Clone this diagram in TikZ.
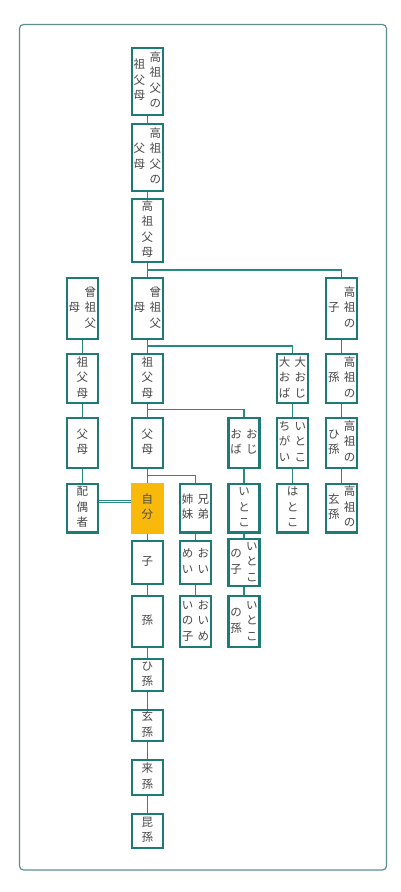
\documentclass[tikz,border=0pt]{standalone}
\usepackage{fontspec}
\setmainfont{Noto Sans CJK JP}
\definecolor{bd}{HTML}{1E7A74}
\definecolor{cn}{HTML}{2A8882}
\definecolor{fr}{HTML}{5E8E8C}
\definecolor{tx}{HTML}{484848}
\definecolor{og}{HTML}{F9B90A}
\newcommand\vcl[1]{\begin{tabular}[c]{@{}c@{}}#1\end{tabular}}
\newcommand\two[2]{\vcl{#2}\hspace{4.4pt}\vcl{#1}}
\tikzset{
  box/.style={draw=bd, line width=2.2pt, fill=white, inner sep=0pt, minimum width=31pt, text=tx},
  me/.style={box, draw=og, fill=og},
  conn/.style={draw=cn, line width=1.5pt},
  frame/.style={draw=fr, line width=1.2pt, rounded corners=4pt}
}
\begin{document}
\begin{tikzpicture}[x=1pt, y=-1pt, font=\fontsize{11.5}{15.5}\selectfont]
\fill[white] (0,0) rectangle (400,892);
\useasboundingbox (0,0) rectangle (400,892);
\draw[frame] (19.5,24.5) rectangle (386.5,870);
% junctions
\coordinate (j1) at (147.3,270);
\coordinate (j2) at (147.3,346);
\coordinate (j3) at (147.3,409.7);
\coordinate (j4) at (147.3,475.5);
% main column
\node[box, minimum height=67.3pt] (m1) at (147.3,81.25) {\two{高\\祖\\父\\の}{祖\\父\\母}};
\node[box, minimum height=66.8pt] (m2) at (147.3,157.5) {\two{高\\祖\\父\\の}{父\\母}};
\node[box, minimum height=62.8pt] (m3) at (147.3,230.5) {\vcl{高\\祖\\父\\母}};
\node[box, minimum height=60.8pt] (m4) at (147.3,308.5) {\two{曾\\祖\\父}{母}};
\node[box, minimum height=48.8pt] (m5) at (147.3,378.5) {\vcl{祖\\父\\母}};
\node[box, minimum height=50.1pt] (m6) at (147.3,442.85) {\vcl{父\\母}};
\node[me, minimum height=48.6pt] (jibun) at (147.3,508.1) {\vcl{自\\分}};
\node[box, minimum height=42.8pt] (ko) at (147.3,562.5) {\vcl{子}};
\node[box, minimum height=50.8pt] (mago) at (147.3,621.5) {\vcl{孫}};
\node[box, minimum height=31.8pt] (himago) at (147.3,675) {\vcl{ひ\\孫}};
\node[box, minimum height=30.8pt] (genson) at (147.3,725.5) {\vcl{玄\\孫}};
\node[box, minimum height=34.8pt] (raison) at (147.3,777.5) {\vcl{来\\孫}};
\node[box, minimum height=34.1pt] (konson) at (147.3,830.85) {\vcl{昆\\孫}};
% left column
\node[box, minimum height=60.8pt] (l4) at (82.3,308.5) {\two{曾\\祖\\父}{母}};
\node[box, minimum height=48.8pt] (l5) at (82.3,378.5) {\vcl{祖\\父\\母}};
\node[box, minimum height=50.1pt] (l6) at (82.3,442.85) {\vcl{父\\母}};
\node[box, minimum height=48.6pt] (haigu) at (82.3,508.1) {\vcl{配\\偶\\者}};
% siblings column
\node[box, minimum height=48.6pt] (kyodai) at (195.5,508.1) {\two{兄\\弟}{姉\\妹}};
\node[box, minimum height=42.8pt] (oimei) at (195.5,562.5) {\two{お\\い}{め\\い}};
\node[box, minimum height=50.8pt] (oimeiko) at (195.5,621.5) {\two{お\\い\\め}{い\\の\\子}};
% uncle column
\node[box, minimum height=50.1pt] (oji) at (244,442.85) {\two{お\\じ}{お\\ば}};
\node[box, minimum height=48.6pt] (itoko) at (244,508.1) {\vcl{い\\と\\こ}};
\node[box, minimum height=42.8pt] (itokoko) at (244,562.5) {\two{い\\と\\こ}{の\\子}};
\node[box, minimum height=50.8pt] (itokomago) at (244,621.5) {\two{い\\と\\こ}{の\\孫}};
% great-uncle column
\node[box, minimum height=48.8pt] (ooji) at (292.5,378.5) {\two{大\\お\\じ}{大\\お\\ば}};
\node[box, minimum height=50.1pt] (chigai) at (292.5,442.85) {\two{い\\と\\こ}{ち\\が\\い}};
\node[box, minimum height=48.6pt] (hatoko) at (292.5,508.1) {\vcl{は\\と\\こ}};
% koso column
\node[box, minimum height=60.8pt] (k1) at (341.7,308.5) {\two{高\\祖\\の}{子}};
\node[box, minimum height=48.8pt] (k2) at (341.7,378.5) {\two{高\\祖\\の}{孫}};
\node[box, minimum height=50.1pt] (k3) at (341.7,442.85) {\two{高\\祖\\の}{ひ\\孫}};
\node[box, minimum height=48.6pt] (k4) at (341.7,508.1) {\two{高\\祖\\の}{玄\\孫}};
% connectors main
\draw[conn] (m1) -- (m2);
\draw[conn] (m2) -- (m3);
\draw[conn] (m3) -- (m4);
\draw[conn] (m4) -- (m5);
\draw[conn] (m5) -- (m6);
\draw[conn] (m6) -- (jibun);
\draw[conn] (jibun) -- (ko);
\draw[conn] (ko) -- (mago);
\draw[conn] (mago) -- (himago);
\draw[conn] (himago) -- (genson);
\draw[conn] (genson) -- (raison);
\draw[conn] (raison) -- (konson);
% left
\draw[conn] (l4) -- (l5);
\draw[conn] (l5) -- (l6);
\draw[conn] (l6) -- (haigu);
% branches
\draw[conn] (j1) -| (k1.north);
\draw[conn] (j2) -| (ooji.north);
\draw[conn] (j3) -| (oji.north);
\draw[conn] (j4) -| (kyodai.north);
\draw[conn] (k1) -- (k2);
\draw[conn] (k2) -- (k3);
\draw[conn] (k3) -- (k4);
\draw[conn] (ooji) -- (chigai);
\draw[conn] (chigai) -- (hatoko);
\draw[conn] (oji) -- (itoko);
\draw[conn] (itoko) -- (itokoko);
\draw[conn] (itokoko) -- (itokomago);
\draw[conn] (kyodai) -- (oimei);
\draw[conn] (oimei) -- (oimeiko);
% spouse
\draw[draw=cn, line width=1.2pt, double=white, double distance=1.4pt] ([yshift=6.6pt]haigu.east) -- ([yshift=6.6pt]jibun.west);
\end{tikzpicture}
\end{document}
